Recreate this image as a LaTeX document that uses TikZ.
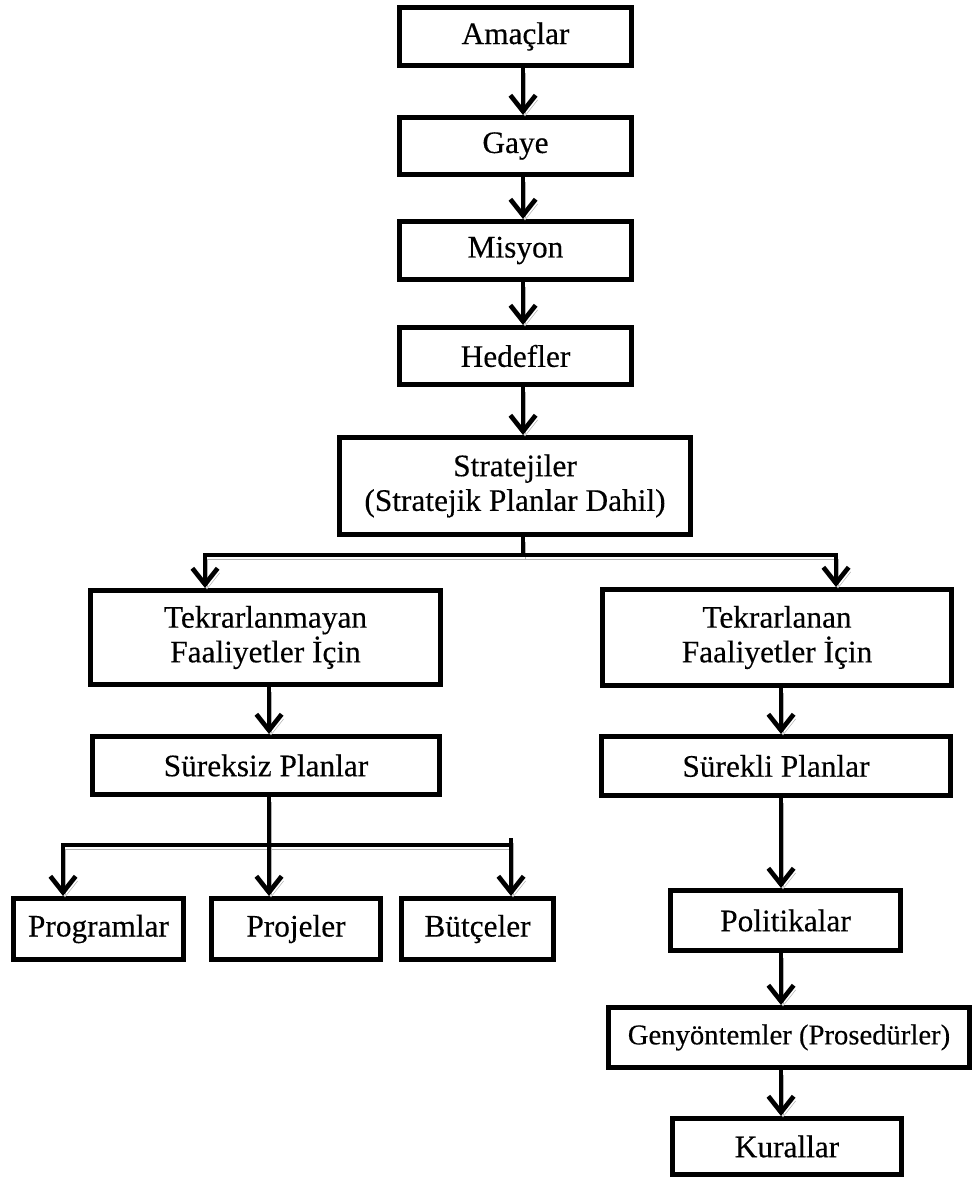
\documentclass[tikz,border=0pt]{standalone}
\usepackage{fontspec}
\setmainfont{Liberation Serif}[FakeBold=0.3]
\usepackage{tikz}
\usetikzlibrary{arrows.meta,positioning}
\newcommand{\newBox}[5]{\node[box,minimum width={(#3-5)*0.75pt},minimum height={(#4-5)*0.75pt}](#1) at (#5) {#2};}
\newcommand{\newArrow}[3]{\draw[link] (#1.south -| #3) -- (#2.north -| #3);}

\begin{document}
\begin{tikzpicture}[
    % One unit is one pixel, y runs down
    x=0.75pt,y=-0.75pt,
    % Boxes: thick black frame
    box/.style={draw,rectangle,line width=3.75pt,inner sep=0pt,align=center,
      font=\fontsize{23.5}{26}\selectfont},
    % Connectors with a grey shadow
    plain/.style={line width=3.5pt,
      preaction={draw=gray!60,transform canvas={shift={(1.5pt,-3.5pt)}}}},
    link/.style={plain,-{Straight Barb[length=12pt,width=19pt]}}
    ]
    \useasboundingbox (0,0) rectangle (976,1184);

    \newBox{amac}{Amaçlar}{237}{63}{515.5,36.5}
    \newBox{gaye}{Gaye}{237}{62}{515.5,146}
    \newBox{misyon}{Misyon}{237}{63}{515.5,250.5}
    \newBox{hedef}{Hedefler}{237}{62}{515.5,356}
    \newBox{strat}{Stratejiler\\(Stratejik Planlar Dahil)}{356}{102}{515,486}
    \newBox{tekm}{Tekrarlanmayan\\Faaliyetler İçin}{355}{99}{265.5,637.5}
    \newBox{tekl}{Tekrarlanan\\Faaliyetler İçin}{354}{101}{777,637.5}
    \newBox{surz}{Süreksiz Planlar}{352}{63}{266,765.5}
    \newBox{surl}{Sürekli Planlar}{354}{64}{776,766}
    \newBox{prog}{Programlar}{175}{66}{98.5,929}
    \newBox{proj}{Projeler}{174}{66}{296,929}
    \newBox{butce}{Bütçeler}{157}{66}{477.5,929}
    \newBox{polit}{Politikalar}{235}{65}{785.5,920.5}
    \newBox{genyon}{\fontsize{21.5}{24}\selectfont Genyöntemler (Prosedürler)}{366}{65}{789,1037.5}
    \newBox{kural}{Kurallar}{234}{61}{787,1146.5}

    % columns of the connectors
    \coordinate (c0) at (523,0);
    \coordinate (j1) at (523,555);
    \coordinate (a1) at (205,0);
    \coordinate (a2) at (836,0);
    \coordinate (c1) at (269,0);
    \coordinate (j2) at (269,845);
    \coordinate (b1) at (63,0);
    \coordinate (b3) at (511,838);

    \coordinate (c2) at (781,0);

    \newArrow{amac}{gaye}{c0}
    \newArrow{gaye}{misyon}{c0}
    \newArrow{misyon}{hedef}{c0}
    \newArrow{hedef}{strat}{c0}
    \draw[plain] (strat.south -| c0) -- (j1);
    \draw[link] (j1) -| (tekm.north -| a1);
    \draw[link] (j1) -| (tekl.north -| a2);
    \newArrow{tekm}{surz}{c1}
    \draw[plain] (surz.south -| c1) -- (j2);
    \draw[link] (j2) -| (prog.north -| b1);
    \draw[link] (j2) -- (proj.north -| j2);
    \draw[plain] (j2) -- (j2 -| b3);
    \draw[link] (b3) -- (butce.north -| b3);
    \newArrow{tekl}{surl}{c2}
    \newArrow{surl}{polit}{c2}
    \newArrow{polit}{genyon}{c2}
    \newArrow{genyon}{kural}{c2}
\end{tikzpicture}
\end{document}
